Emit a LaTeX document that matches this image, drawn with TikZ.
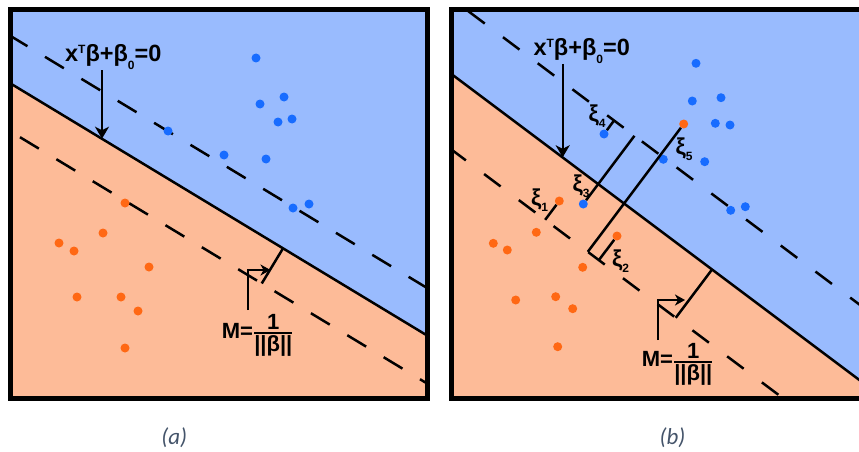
\documentclass[tikz,border=0pt]{standalone}
\usepackage{fontspec}
\usepackage{amsmath}
\setmainfont{Liberation Sans}
\newfontfamily\capfont{Carlito}
\usetikzlibrary{arrows.meta,calc}

\definecolor{bgblue}{RGB}{153,187,254}
\definecolor{bgsalmon}{RGB}{253,187,152}
\definecolor{dotblue}{RGB}{24,108,255}
\definecolor{dotorange}{RGB}{255,104,20}
\definecolor{captxt}{RGB}{68,84,106}

\newcommand{\smallsz}{\fontsize{12}{12}\selectfont}
\newcommand{\hyplabel}{x\raisebox{8pt}{\smallsz T}β+β\raisebox{-8pt}{\smallsz 0}=0}
\newcommand{\marglabel}{M=$\genfrac{}{}{2pt}{1}{\mbox{1}}{\mbox{||β||}}$}
\newcommand{\xilabel}[1]{ξ\raisebox{-6pt}{\smallsz #1}}

\tikzset{
  hyper/.style={line width=2.5pt},
  margina/.style={line width=2.5pt, dash pattern=on 22pt off 20.5pt},
  marginb/.style={line width=2.5pt, dash pattern=on 20.6pt off 22.8pt},
  seg/.style={line width=2.5pt},
  ptr/.style={line width=2.3pt, -{Stealth[length=12pt,width=14pt,inset=3.5pt]}},
  ptrm/.style={line width=2.3pt, -{Stealth[length=10pt,width=11pt,inset=3pt]}},
  bdot/.style={circle, fill=dotblue, inner sep=0pt, minimum size=9pt},
  odot/.style={circle, fill=dotorange, inner sep=0pt, minimum size=9pt},
  eq/.style={font=\fontsize{23.5}{23.5}\selectfont\bfseries, inner sep=0pt},
  eqm/.style={font=\fontsize{22}{22}\selectfont\bfseries, inner sep=0pt},
  xi/.style={font=\fontsize{23}{23}\selectfont\bfseries, inner sep=0pt},
  captionstyle/.style={font=\capfont\itshape\fontsize{23}{23}\selectfont, text=captxt, inner sep=0pt},
  frame/.style={line width=5pt, draw=black}
}

\begin{document}
\begin{tikzpicture}[x=1pt,y=-1pt]
\useasboundingbox (0,0) rectangle (859,452);

%================ panel (a)
\coordinate (aS1) at (0,77.1);   \coordinate (aS2) at (440,343.3);
\coordinate (aU1) at (0,29.6);   \coordinate (aU2) at (440,295.8);
\coordinate (aL1) at (0,125.1);  \coordinate (aL2) at (440,391.3);
\begin{scope}
  \clip (10,10) rectangle (427,398);
  \fill[bgsalmon] (0,0) rectangle (440,410);
  \fill[bgblue] (0,0) -- (440,0) -- (aS2) -- (aS1) -- cycle;
  \draw[hyper] (aS1) -- (aS2);
  \draw[margina, dash phase=32.4pt] (aU1) -- (aU2);
  \draw[margina, dash phase=19.1pt] (aL1) -- (aL2);
\end{scope}

% margin marker (a)
\coordinate (aM1) at (283,248.4);
\coordinate (aM2) at ($(aL1)!(aM1)!(aL2)$);
\draw[seg] (aM1) -- (aM2);

% dots (a)
\node[bdot] (ab1) at (256,58) {};
\node[bdot] (ab2) at (260,104) {};
\node[bdot] (ab3) at (284,97) {};
\node[bdot] (ab4) at (278,122) {};
\node[bdot] (ab5) at (292,119) {};
\node[bdot] (ab6) at (168,131) {};
\node[bdot] (ab7) at (224,155) {};
\node[bdot] (ab8) at (266,159) {};
\node[bdot] (ab9) at (293,208) {};
\node[bdot] (ab10) at (309,204) {};
\node[odot] (ao1) at (125,203) {};
\node[odot] (ao2) at (103,233) {};
\node[odot] (ao3) at (59,243) {};
\node[odot] (ao4) at (74,251) {};
\node[odot] (ao5) at (149,267) {};
\node[odot] (ao6) at (77,297) {};
\node[odot] (ao7) at (121,297) {};
\node[odot] (ao8) at (138,311) {};
\node[odot] (ao9) at (125,348) {};

% labels (a)
\node[eq, anchor=base] (aEq) at (113.3,61.7) {\hyplabel};
\coordinate (aHit) at (102,138.7);
\draw[ptr] (aEq.south -| aHit) -- (aHit);
\node[eqm, anchor=base west] (aM) at (221.7,338) {\marglabel};
\coordinate (aPs) at (247.7,310);
\coordinate (aPt) at (270.5,270);
\draw[ptrm] (aPs) |- (aPt);

\draw[frame] (10,10) rectangle (427,398);

%================ panel (b)
\coordinate (bS1) at (451,73.7);   \coordinate (bS2) at (870,388);
\coordinate (bU1) at (451,-1.8);   \coordinate (bU2) at (870,312.5);
\coordinate (bL1) at (451,149.2);  \coordinate (bL2) at (870,463.5);
\begin{scope}
  \clip (451,10) rectangle (870,398);
  \fill[bgsalmon] (440,0) rectangle (880,410);
  \fill[bgblue] (bS1) -- (bS2) -- (880,388) -- (880,-20) -- (440,-20) -- (440,73.7) -- cycle;
  \draw[hyper] (bS1) -- (bS2);
  \draw[marginb, dash phase=21.8pt] (bU1) -- (bU2);
  \draw[marginb, dash phase=2pt] (bL1) -- (bL2);
\end{scope}

% slack segments
\coordinate (x1e) at ($(bL1)!(559.3,201)!(bL2)$);
\coordinate (x2e) at ($(bL1)!(617,236)!(bL2)$);
\coordinate (x3e) at ($(bU1)!(583.3,204)!(bU2)$);
\coordinate (x4e) at ($(bU1)!(604,134)!(bU2)$);
\coordinate (x5e) at ($(bL1)!(683.7,124)!(bL2)$);

% dots (b)
\node[bdot] (bb1) at (696,63.3) {};
\node[bdot] (bb2) at (692.3,101) {};
\node[bdot] (bb3) at (721,97.7) {};
\node[bdot] (bb4) at (715.3,123.3) {};
\node[bdot] (bb5) at (730,125) {};
\node[bdot] (bb6) at (663.3,159.3) {};
\node[bdot] (bb7) at (704.7,161.7) {};
\node[bdot] (bb8) at (730.7,210.3) {};
\node[bdot] (bb9) at (745.3,206.7) {};
\node[bdot] (bb10) at (604,134) {};
\node[bdot] (bb11) at (583.3,204) {};
\node[odot] (bo1) at (683.7,124) {};
\node[odot] (bo2) at (559.3,201) {};
\node[odot] (bo3) at (536.3,232.3) {};
\node[odot] (bo4) at (493.3,243.3) {};
\node[odot] (bo5) at (507.3,250) {};
\node[odot] (bo6) at (617,236) {};
\node[odot] (bo7) at (582.7,267.3) {};
\node[odot] (bo8) at (515.7,300) {};
\node[odot] (bo9) at (555.7,296.7) {};
\node[odot] (bo10) at (572.7,308.7) {};
\node[odot] (bo11) at (557.7,346.7) {};

\draw[seg] (bo2) -- (x1e);
\draw[seg] (bo6) -- (x2e);
\draw[seg] (bb11) -- (x3e);
\draw[seg] (bb10) -- (x4e);
\draw[seg] (bo1) -- (x5e);

% margin marker (b)
\coordinate (bM1) at (712,269.5);
\coordinate (bM2) at ($(bL1)!(bM1)!(bL2)$);
\draw[seg] (bM1) -- (bM2);

% labels (b)
\node[eq, anchor=base] (bEq) at (581.7,55.5) {\hyplabel};
\coordinate (bHit) at (562.7,157.3);
\draw[ptr] (bEq.south -| bHit) -- (bHit);
\node[eqm, anchor=base west] (bM) at (641.7,366.7) {\marglabel};
\coordinate (bPs) at (658.3,340);
\coordinate (bPt) at (685,300);
\draw[ptrm] (bPs) |- (bPt);

\node[xi] (xi1) at (539.5,200) {\xilabel{1}};
\node[xi] (xi2) at (620.5,261) {\xilabel{2}};
\node[xi] (xi3) at (581,186) {\xilabel{3}};
\node[xi] (xi4) at (597,116) {\xilabel{4}};
\node[xi] (xi5) at (684,149) {\xilabel{5}};

\draw[frame] (451,10) rectangle (870,398);

% captions
\node[captionstyle] (capA) at (174.2,437.5) {(a)};
\node[captionstyle] (capB) at (672.5,437.5) {(b)};
\end{tikzpicture}
\end{document}
